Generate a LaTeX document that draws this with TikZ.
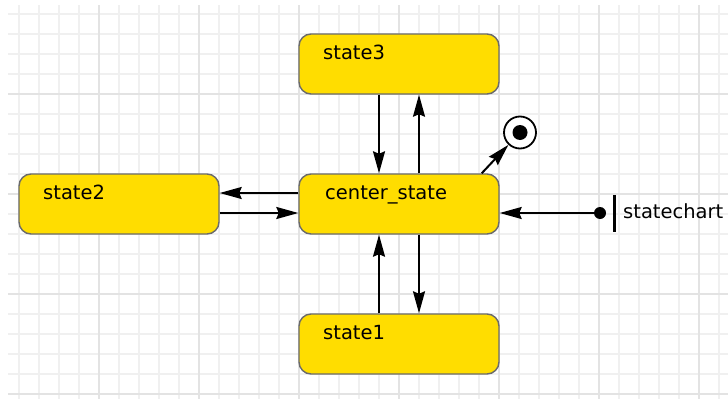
\documentclass[tikz,border=0pt]{standalone}
\usepackage{fontspec}
\setmainfont{DejaVu Sans}
\usetikzlibrary{arrows.meta,calc}

\definecolor{stateyellow}{HTML}{FFDD00}
\definecolor{boxline}{HTML}{6A6A6A}
\definecolor{gridminor}{HTML}{F0F0F0}
\definecolor{gridmajor}{HTML}{E3E3E3}

\begin{document}
\begin{tikzpicture}[x=1pt,y=-1pt,
  statebox/.style={draw=boxline, fill=stateyellow, line width=1.4pt,
    rounded corners=12pt, minimum width=200pt, minimum height=60pt, inner sep=0pt},
  statename/.style={anchor=base west, inner sep=0pt,
    font=\fontsize{19.5}{22}\selectfont, text=black},
  trans/.style={line width=2pt, -{Stealth[length=22pt,width=12pt,inset=2.5pt]}},
  minorline/.style={gridminor, line width=1.6pt},
  majorline/.style={gridmajor, line width=1.6pt},
]
\useasboundingbox (0,0) rectangle (728,399);
\fill[white] (0,0) rectangle (728,399);

% background grid, 20pt cells with a stronger line every 100pt
\foreach \x in {19,39,...,719} \draw[minorline] (\x,5) -- (\x,399);
\foreach \y in {14,34,...,394} \draw[minorline] (8,\y) -- (728,\y);
\foreach \x in {99,199,...,699} \draw[majorline] (\x,5) -- (\x,399);
\foreach \y in {94,194,294,394} \draw[majorline] (8,\y) -- (728,\y);

% states
\node[statebox] (s3) at (399,64) {};
\node[statename] (s3name) at (323,59) {state3};
\node[statebox] (cs) at (399,204) {};
\node[statename] (csname) at (325,199) {center\_state};
\node[statebox] (s1) at (399,344) {};
\node[statename] (s1name) at (323,339) {state1};
\node[statebox] (s2) at (119,204) {};
\node[statename] (s2name) at (43,199) {state2};

% final state
\node[circle, draw=black, line width=1.8pt, fill=white, minimum size=32pt, inner sep=0pt] (fin) at (520,132.5) {};
\node[circle, fill=black, minimum size=15pt, inner sep=0pt] (findot) at (fin.center) {};

% initial pseudo-state of the chart
\node[circle, fill=black, minimum size=12pt, inner sep=0pt] (init) at (600,213) {};
\node[fill=black, minimum width=3pt, minimum height=37pt, inner sep=0pt] (bar) at (614,213.5) {};
\node[statename] (chartname) at (623,218) {statechart};

% transitions
\draw[trans] ($(s3.south)+(-20,0)$) -- ($(cs.north)+(-20,0)$);
\draw[trans] ($(cs.north)+(20,0)$) -- ($(s3.south)+(20,0)$);
\draw[trans] ($(s1.north)+(-20,0)$) -- ($(cs.south)+(-20,0)$);
\draw[trans] ($(cs.south)+(20,0)$) -- ($(s1.north)+(20,0)$);
\draw[trans] ($(cs.west)+(0,-11)$) -- ($(s2.east)+(0,-11)$);
\draw[trans] ($(s2.east)+(0,9)$) -- ($(cs.west)+(0,9)$);
\draw[trans] (init) -- (init -| cs.east);
\draw[trans] ($(cs.north east)+(-18,0)$) -- (fin);
\end{tikzpicture}
\end{document}
